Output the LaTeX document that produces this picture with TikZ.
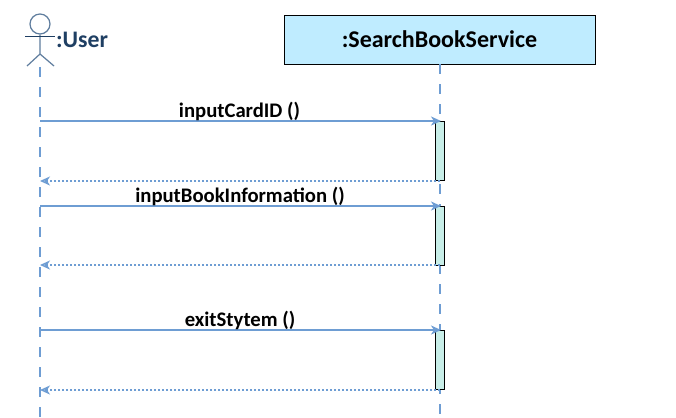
\documentclass[tikz,border=0pt]{standalone}
\usepackage{fontspec}
\setmainfont{Carlito}
\usetikzlibrary{arrows.meta}
\definecolor{lineblue}{HTML}{6E9DD3}
\definecolor{boxblue}{HTML}{BFECFF}
\definecolor{barteal}{HTML}{C8EEE8}
\definecolor{actorgrey}{HTML}{5F7D9E}
\definecolor{navy}{HTML}{1F3F63}
\tikzset{
  x=1pt,y=-1pt,
  lifeline/.style={draw=lineblue,line width=1.8pt,dash pattern=on 10pt off 10pt},
  callarrow/.style={draw=lineblue,line width=1.6pt,-{Stealth[length=10pt,width=9pt,inset=3pt]},shorten >=-1pt},
  retarrow/.style={draw=lineblue,line width=1.6pt,dash pattern=on 2pt off 2pt,-{Stealth[length=10pt,width=9pt,inset=3pt,open]}},
  objbox/.style={draw=black,line width=0.9pt,fill=boxblue,minimum width=311pt,minimum height=49pt,inner sep=0pt,font=\fontsize{24}{28}\selectfont\bfseries},
  activation/.style={draw=black,line width=0.8pt,fill=barteal,minimum width=9pt,inner sep=0pt},
  msglabel/.style={font=\fontsize{20.7}{24}\selectfont\bfseries,text=black,inner sep=0pt},
  actorline/.style={draw=actorgrey,line width=1.2pt},
}
\begin{document}
\begin{tikzpicture}
\useasboundingbox (0,0) rectangle (676,417);
\fill[white] (0,0) rectangle (676,417);
% lifeline anchors
\coordinate (uend) at (40,417);
\coordinate (ustart) at (40,67);
\coordinate (send) at (440,417);
% object box
\node[objbox] (svc) at (439.5,39.5) {:SearchBookService};
% lifelines
\draw[lifeline] (ustart) -- (uend);
\draw[lifeline] (svc.south -| send) -- (send);
% actor
\node[circle,actorline,minimum size=20pt,inner sep=0pt] (head) at (40,24) {};
\coordinate (hip) at (40,54);
\coordinate (footl) at (27,66);
\coordinate (footr) at (54,66);
\coordinate (arml) at (25,37);
\coordinate (armr) at (55,37);
\draw[actorline] (head.south) -- (hip) (footl) -- (hip) -- (footr);
\draw[draw=navy,line width=1pt] (arml) -- (armr);
\node[anchor=west,inner sep=0pt,text=navy,font=\fontsize{23.7}{28}\selectfont\bfseries] (user) at (56,40) {:User};
% activations
\node[activation,minimum height=59pt] (a1) at (439.5,151) {};
\node[activation,minimum height=59pt] (a2) at (439.5,236) {};
\node[activation,minimum height=59pt] (a3) at (439.5,360) {};
% user-side anchors
\coordinate (u1) at (40,121);
\coordinate (r1) at (40,181);
\coordinate (u2) at (40,206);
\coordinate (r2) at (40,265);
\coordinate (u3) at (40,330);
\coordinate (r3) at (40,390);
% messages
\draw[callarrow] (u1) -- (u1 -| send) node[msglabel,pos=0.5,above=-0.5pt,xshift=-0.5pt] (m1) {inputCardID ()};
\draw[retarrow] (r1 -| send) -- (r1);
\draw[callarrow] (u2) -- (u2 -| send) node[msglabel,pos=0.5,above=-0.5pt] (m2) {inputBookInformation ()};
\draw[retarrow] (r2 -| send) -- (r2);
\draw[callarrow] (u3) -- (u3 -| send) node[msglabel,pos=0.5,above=-0.5pt] (m3) {exitStytem ()};
\draw[retarrow] (r3 -| send) -- (r3);
\end{tikzpicture}
\end{document}
